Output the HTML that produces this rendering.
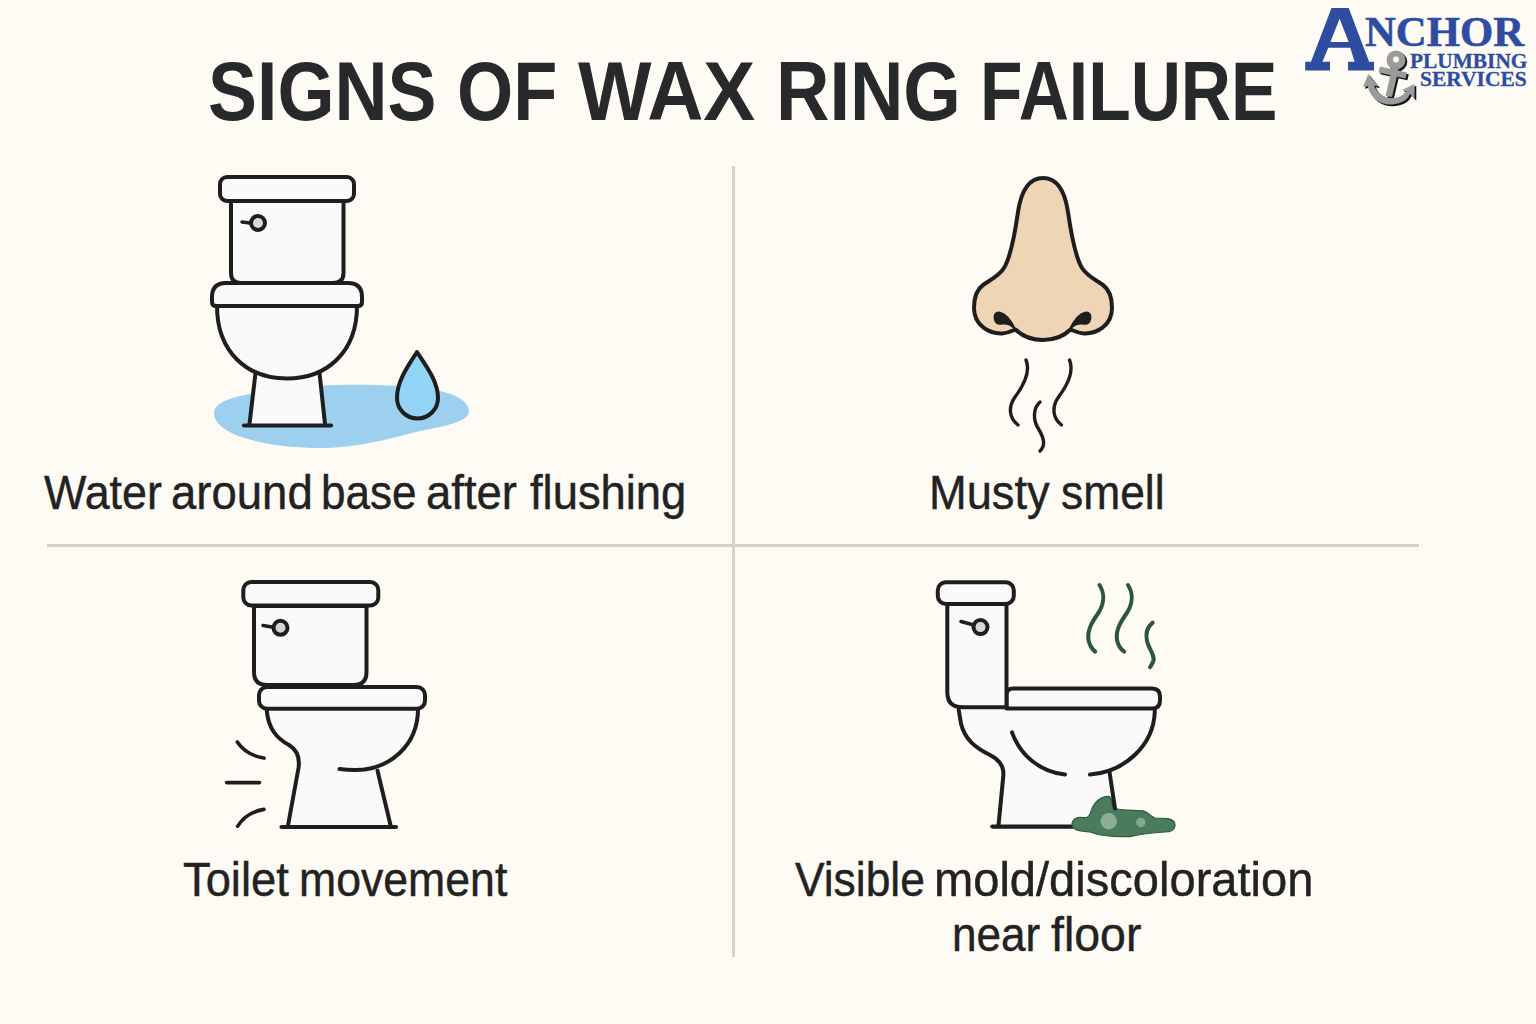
<!DOCTYPE html>
<html>
<head>
<meta charset="utf-8">
<style>
html,body{margin:0;padding:0;}
body{width:1536px;height:1024px;overflow:hidden;background:#FEFBF5;position:relative;font-family:"Liberation Sans",sans-serif;color:#222222;}
.t{position:absolute;white-space:nowrap;transform-origin:0 0;line-height:1;}
.title{font-weight:bold;font-size:84px;color:#28292A;}
.body{font-size:49px;-webkit-text-stroke:0.45px #222;}
svg{position:absolute;left:0;top:0;}
.logo{font-family:"Liberation Serif",serif;font-weight:bold;color:#2E4DA0;-webkit-text-stroke:0.6px #2E4DA0;}
.sm{-webkit-text-stroke:0.3px #2E4DA0;}
</style>
</head>
<body>
<svg width="1536" height="1024" viewBox="0 0 1536 1024">
  <!-- dividers -->
  <rect x="47" y="544" width="1372" height="3" fill="#D8D1C6"/>
  <rect x="732" y="166" width="3" height="791" fill="#D8D1C6"/>

  <g fill="#FAFAFA" stroke="#1E1E1E" stroke-width="4" stroke-linecap="round" stroke-linejoin="round">
  <!-- ===== Toilet 1 ===== -->
  <path d="M214 413 C214 398 250 393 290 388 C330 383 400 384 430 389 C455 393 469 401 469 411 C469 422 445 426 420 431 C395 437 360 448 320 448 C270 448 214 436 214 413 Z" fill="#9DD0EE" stroke="none"/>
  <path d="M255.5 373 L249.5 425 L325 425 L319.5 373 Z" stroke="none"/>
  <line x1="255.5" y1="373" x2="249.5" y2="424"/>
  <line x1="319.5" y1="373" x2="325" y2="424"/>
  <line x1="244" y1="425.5" x2="331" y2="425.5" stroke-width="4.2"/>
  <path d="M217 306 C217 352 247 378.5 287 378.5 C327 378.5 357 352 357 306 Z"/>
  <path d="M212 302 L212 297 Q212 283 226 283 L348 283 Q362 283 362 297 L362 302 Q362 306 358 306 L216 306 Q212 306 212 302 Z"/>
  <path d="M231 201 L231 273 Q231 283 241 283 L333 283 Q343.5 283 343.5 273 L343.5 201 Z"/>
  <rect x="220" y="177" width="134" height="24" rx="7"/>
  <line x1="242" y1="222" x2="250" y2="223" stroke-width="3.5"/>
  <circle cx="258" cy="223" r="7" fill="#D9D9D9"/>
  <path d="M417 352 C408 366 397 381 397 398 A20.5 20.5 0 0 0 438 398 C438 381 426 366 417 352 Z" fill="#93D3F5"/>

  <!-- ===== Nose ===== -->
  <path d="M1043 178 C1028 178 1021 192 1018 212 C1014 240 1010 258 1004 268 C999 276 990 280 983 285 C976 290 974 298 974 308 C974 326 990 334 1002 333.5 C1008 333 1012 331 1015.5 329.5 C1022 336 1032 340 1043 340 C1054 340 1064 336 1070.5 329.5 C1074 331 1078 333 1084 333.5 C1096 334 1112 326 1112 308 C1112 298 1110 290 1103 285 C1096 280 1087 276 1082 268 C1076 258 1072 240 1068 212 C1065 192 1058 178 1043 178 Z" fill="#EFD4B5" stroke-width="4"/>
  <path d="M1016 330 C1012 322 1007 314 1000 312.5 C995.5 311.5 993.5 315 994.5 319 C995.5 323 998 324.5 1001 324 C1005 323.5 1009 323.5 1012.5 327 Z" fill="#1E1E1E" stroke-width="1.5"/>
  <path d="M1069 330 C1073 322 1078 314 1085 312.5 C1089.5 311.5 1091.5 315 1090.5 319 C1089.5 323 1087 324.5 1084 324 C1080 323.5 1076 323.5 1072.5 327 Z" fill="#1E1E1E" stroke-width="1.5"/>
  <g fill="none" stroke-width="3.4">
    <path d="M1026 360 C1031 372 1024 385 1015 397 C1008 407 1009 418 1018 425"/>
    <path d="M1069.5 360 C1074.5 372 1067.5 385 1058.5 397 C1051.5 407 1052.5 418 1061.5 425"/>
    <path d="M1040 402 C1033 408 1033 420 1038 428 C1044 438 1046 445 1040 451"/>
  </g>

  <!-- ===== Toilet 2 ===== -->
  <path d="M266.6 709 C268 728 276 738 289 745 C297 750 300 758 298.5 768 L288 826 L391 826 L377.5 770.6 C395 765 418 745 418 709 Z" stroke="none"/>
  <path d="M266.6 709 C268 728 276 738 289 745 C297 750 300 758 298.5 768 L288 825.5" fill="none"/>
  <path d="M418 709 C418 745 390 770 355 770 C348 770 343 769.5 339.5 769" fill="none"/>
  <line x1="377.5" y1="770.6" x2="390.6" y2="825.5"/>
  <line x1="281.5" y1="827" x2="396" y2="827" stroke-width="4.2"/>
  <rect x="259" y="687" width="166" height="21.7" rx="8"/>
  <path d="M254 606 L254 672 Q254 685 267 685 L353.5 685 Q366.5 685 366.5 672 L366.5 606 Z"/>
  <rect x="243.3" y="582" width="135" height="23.5" rx="8"/>
  <line x1="263" y1="625.5" x2="272" y2="627" stroke-width="3.5"/>
  <circle cx="280.5" cy="627.8" r="7" fill="#D9D2CC"/>
  <g fill="none" stroke-width="3.6">
    <path d="M237.3 742 Q246 755 264 758.1"/>
    <line x1="226.6" y1="782.6" x2="259.5" y2="782.6"/>
    <path d="M237.6 826.2 Q247 812 264 809.4"/>
  </g>

  <!-- ===== Toilet 3 ===== -->
  <path d="M958.75 710 L961 723.75 C965 740 976 748 990 755 C1000 760 1004 768 1003.3 776 L998.6 826 L1117.5 826 L1109.5 772 C1135 765 1154.8 745 1154.8 711 Z" stroke="none"/>
  <path d="M958.75 710 L961 723.75 C965 740 976 748 990 755 C1000 760 1004 768 1003.3 776 L998.6 824.5" fill="none"/>
  <path d="M1012 732.3 C1020 755 1040 772 1065 774.5" fill="none"/>
  <path d="M1154.8 711 C1154 745 1125 772 1090 774.5" fill="none"/>
    <line x1="992.3" y1="826.6" x2="1080" y2="826.6" stroke-width="4.2"/>
  <path d="M1006.5 708.6 L1006.5 695 Q1006.5 688.5 1013 688.5 L1152 688.5 Q1160 688.5 1160 696.5 L1160 700.6 Q1160 708.6 1152 708.6 Z"/>
  <path d="M947.3 604 L947.3 692 Q947.3 707.3 962.6 707.3 L1006.5 707.3 L1006.5 604 Z"/>
  <rect x="937.8" y="582.2" width="76" height="21.8" rx="8"/>
  <line x1="961" y1="621.5" x2="972" y2="624.5" stroke-width="3.5"/>
  <circle cx="980.5" cy="627.1" r="7" fill="#D9D9D4"/>
  <!-- mold -->
  <path d="M1072 824.8 C1072 819 1077 817 1082 817.5 C1086 818 1089 818 1090.5 813 C1093 803 1100 796.3 1108 796.3 C1111 796.3 1112 800 1113 808 C1120 810.5 1135 810 1143 810.8 C1148 812 1151 817 1155 818 C1160 818.5 1165 818 1168 818.6 C1172 819.5 1175 822 1175 825 C1175 830 1170 832 1165 832 C1155 832.5 1145 833 1130 836.6 C1115 837 1100 836 1090 832 C1083 831 1072 831 1072 824.8 Z" fill="#4A7B5B" stroke="#2F5A3E" stroke-width="1.2"/>
  <circle cx="1108.75" cy="821.3" r="8.2" fill="#8CAF97" stroke="none"/>
  <circle cx="1140.8" cy="822.5" r="4.7" fill="#82A88D" stroke="none"/>
  <line x1="1109.5" y1="772" x2="1115" y2="808.5"/>
  <g fill="none" stroke="#2C563B" stroke-width="4">
    <path d="M1099.5 585 C1104 592 1105 602 1099 612 C1092 622 1087 630 1088.5 640 C1089.5 645 1092 649 1095.2 651.6"/>
    <path d="M1128 585 C1132.5 592 1133.5 602 1127.5 612 C1120.5 622 1115.5 630 1117 640 C1118 645 1120.5 649 1124.2 651.6"/>
    <path d="M1152.7 622.6 C1147 627 1145.5 634 1147 641 C1149 650 1156 656 1153 662 C1152 664 1151 666 1150 667.2"/>
  </g>
  </g>

  <!-- logo A -->
  <path fill="#2E4DA0" fill-rule="evenodd" d="M1331.5 8 L1348.7 8 L1369.1 61.8 L1374 61.8 L1374 70.4 L1348 70.4 L1348 61.8 L1354.6 61.8 L1350.3 47.8 L1328.3 47.8 L1322.4 61.8 L1330 61.8 L1330 70.4 L1305.2 70.4 L1305.2 61.8 L1311 61.8 Z M1339.6 18.8 L1348.7 41.9 L1330.4 41.9 Z"/>
  <!-- ===== Logo anchor ===== -->
  <g transform="translate(1.8,1.8)" fill="#161616">
    <circle cx="1396" cy="60" r="9.5"/>
    <polygon points="1380,66.5 1407,72.5 1405.5,78.5 1378.5,72.5"/>
    <polygon points="1392,68 1398.5,69.5 1392,97 1385.5,96"/>
    <path d="M1368.3 74 L1363 87 L1367.5 86 C1371 100 1382 105 1392 104.5 C1402 104 1408 99 1410 94 L1414.5 99 L1414.5 84 L1402 90 L1406 91 C1403 96 1398 98.5 1391 98 C1384 97.5 1377 93 1374 85.5 L1378.3 86.5 Z"/>
  </g>
  <g fill="#9B9B9B">
    <circle cx="1396" cy="60" r="9.5"/>
    <polygon points="1380,66.5 1407,72.5 1405.5,78.5 1378.5,72.5"/>
    <polygon points="1392,68 1398.5,69.5 1392,97 1385.5,96"/>
    <path d="M1368.3 74 L1363 87 L1367.5 86 C1371 100 1382 105 1392 104.5 C1402 104 1408 99 1410 94 L1414.5 99 L1414.5 84 L1402 90 L1406 91 C1403 96 1398 98.5 1391 98 C1384 97.5 1377 93 1374 85.5 L1378.3 86.5 Z"/>
  </g>
  <circle cx="1396" cy="59.5" r="3" fill="#FEFBF5"/>
</svg>

<div class="t title" style="left:208.1px;top:49px;transform:scaleX(0.8745);">SIGNS</div>
<div class="t title" style="left:457.1px;top:49px;transform:scaleX(0.8596);">OF</div>
<div class="t title" style="left:578.3px;top:49px;transform:scaleX(0.9263);">WAX</div>
<div class="t title" style="left:776.2px;top:49px;transform:scaleX(0.8804);">RING</div>
<div class="t title" style="left:980.3px;top:49px;transform:scaleX(0.8277);">FAILURE</div>
<div class="t body" style="left:43.6px;top:468px;transform:scaleX(0.9148);">Water</div>
<div class="t body" style="left:170.6px;top:468px;transform:scaleX(0.9291);">around</div>
<div class="t body" style="left:321.3px;top:468px;transform:scaleX(0.8990);">base</div>
<div class="t body" style="left:425.8px;top:468px;transform:scaleX(0.9281);">after</div>
<div class="t body" style="left:529.7px;top:468px;transform:scaleX(0.9253);">flushing</div>
<div class="t body" style="left:928.5px;top:468.2px;transform:scaleX(0.9228);">Musty</div>
<div class="t body" style="left:1060.5px;top:468.2px;transform:scaleX(0.9055);">smell</div>
<div class="t body" style="left:182.5px;top:855px;transform:scaleX(0.9248);">Toilet</div>
<div class="t body" style="left:298.5px;top:855px;transform:scaleX(0.9106);">movement</div>
<div class="t body" style="left:795.0px;top:855px;transform:scaleX(0.9049);">Visible</div>
<div class="t body" style="left:934.3px;top:855px;transform:scaleX(0.9607);">mold/discoloration</div>
<div class="t body" style="left:951.6px;top:909.9px;transform:scaleX(0.9000);">near</div>
<div class="t body" style="left:1050.5px;top:909.9px;transform:scaleX(0.9484);">floor</div>
<div class="t logo" style="left:1364.5px;top:11.2px;font-size:42.3px;transform:scaleX(1.01);">NCHOR</div>
<div class="t logo sm" style="left:1409.6px;top:51px;font-size:21px;transform:scaleX(1.017);">PLUMBING</div>
<div class="t logo sm" style="left:1420.2px;top:69.2px;font-size:21.2px;transform:scaleX(1.014);">SERVICES</div>
</body>
</html>
